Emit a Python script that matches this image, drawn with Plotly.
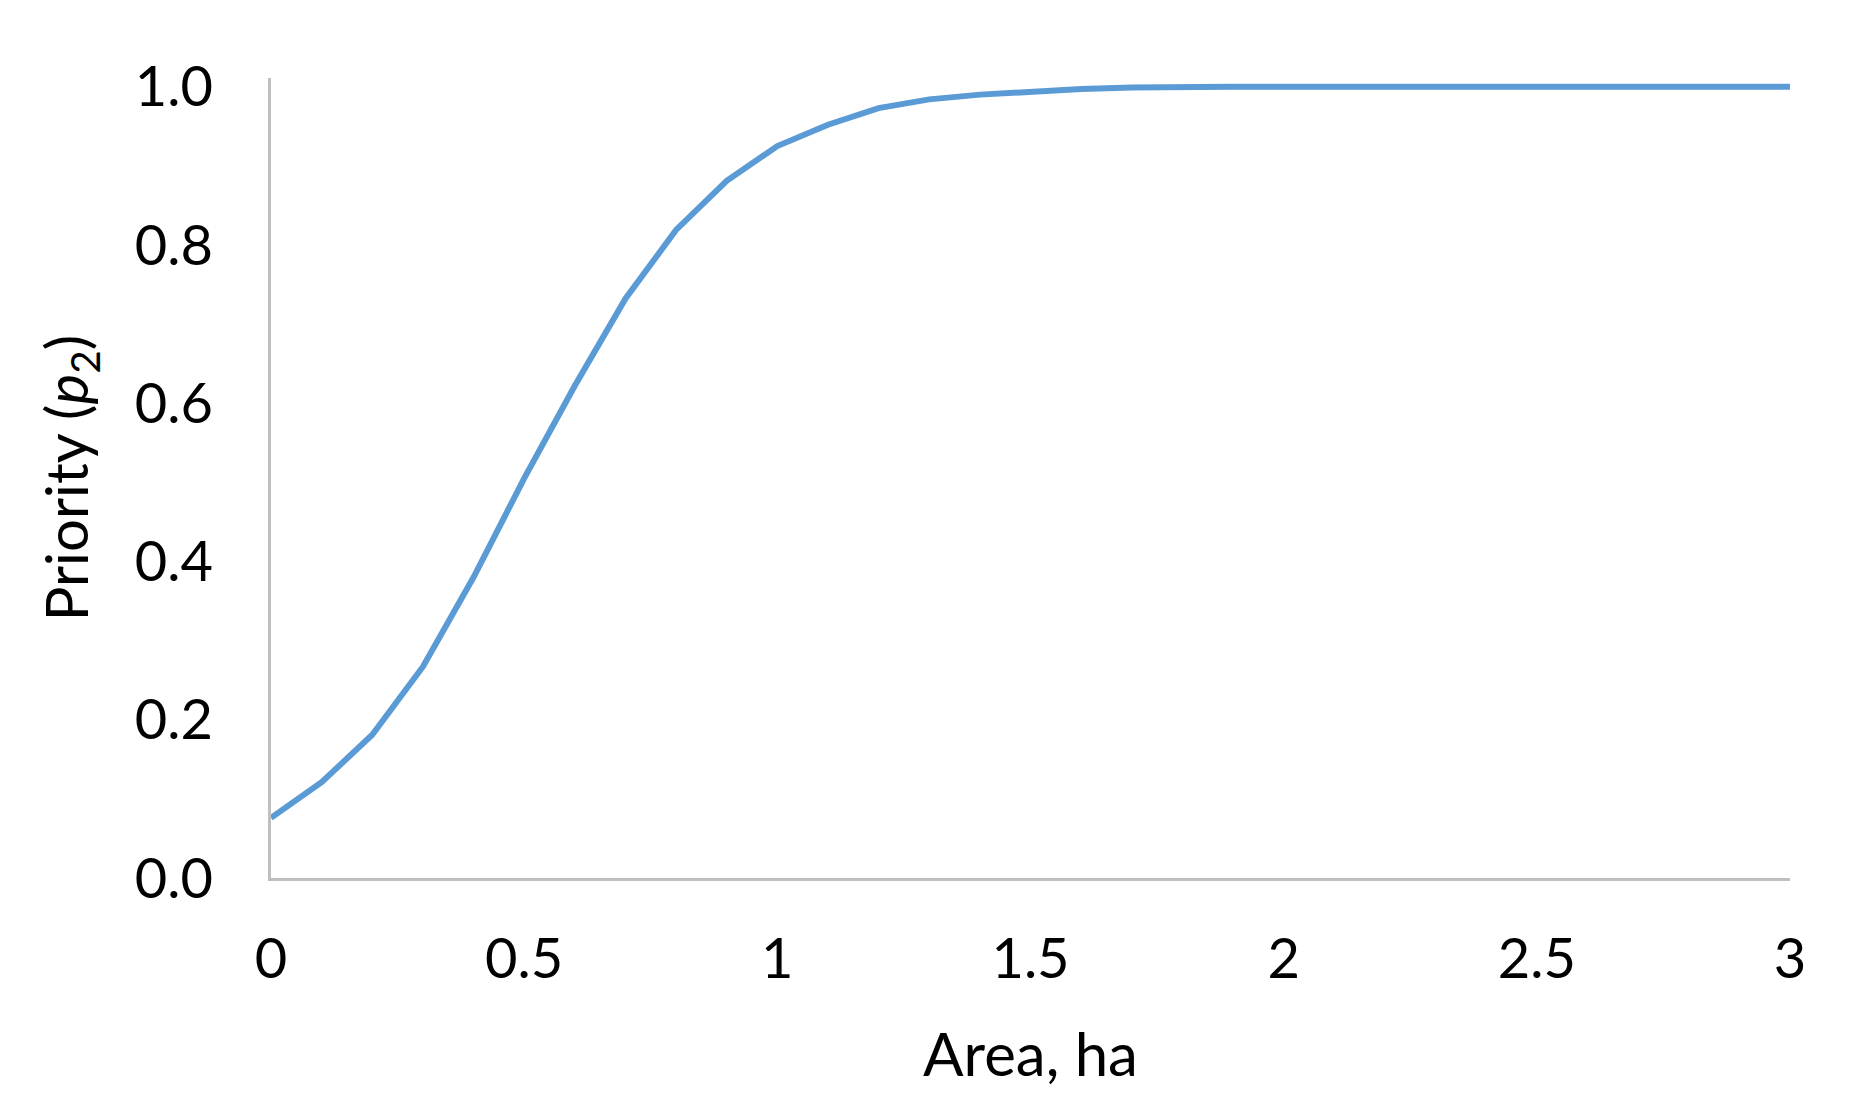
import plotly.graph_objects as go

area_ha = [0.0, 0.1, 0.2, 0.3, 0.4, 0.5, 0.6, 0.7, 0.8, 0.9,
           1.0, 1.1, 1.2, 1.3, 1.4, 1.5, 1.6, 1.7, 1.8, 1.9,
           2.0, 2.1, 2.2, 2.3, 2.4, 2.5, 2.6, 2.7, 2.8, 2.9, 3.0]
priority_p2 = [0.076, 0.121, 0.181, 0.267, 0.380, 0.505, 0.622, 0.732, 0.819, 0.881,
               0.925, 0.952, 0.973, 0.984, 0.990, 0.994, 0.997, 0.999, 1.0, 1.0,
               1.0, 1.0, 1.0, 1.0, 1.0, 1.0, 1.0, 1.0, 1.0, 1.0, 1.0]
x_ticks = [0, 0.5, 1, 1.5, 2, 2.5, 3]
x_tick_labels = ["0", "0.5", "1", "1.5", "2", "2.5", "3"]
y_ticks = [0.0, 0.2, 0.4, 0.6, 0.8, 1.0]
y_tick_labels = ["0.0", "0.2", "0.4", "0.6", "0.8", "1.0"]

FONT = "Lato"

fig = go.Figure()
fig.add_trace(go.Scatter(
    x=area_ha, y=priority_p2, mode="lines",
    line=dict(color="#5B9BD5", width=6),
    showlegend=False, hoverinfo="x+y",
))

fig.update_layout(
    width=1849, height=1113,
    paper_bgcolor="white", plot_bgcolor="white",
    margin=dict(l=263, r=67, t=70, b=243),
    font=dict(family=FONT, color="#000000", size=56),
)
fig.update_xaxes(
    range=[0, 3], tickvals=x_ticks, ticktext=x_tick_labels,
    showgrid=False, zeroline=False, automargin=False,
    showline=True, linecolor="#BFBFBF", linewidth=2.5,
    ticks="", ticklabelstandoff=30,
    tickfont=dict(family=FONT, size=56, color="#000000"),
    title=dict(text="Area, ha", font=dict(family=FONT, size=60, color="#000000"), standoff=46),
)
fig.update_yaxes(
    range=[0, 1.011], tickvals=y_ticks, ticktext=y_tick_labels,
    showgrid=False, zeroline=False, automargin=False,
    showline=True, linecolor="#BFBFBF", linewidth=2.5,
    ticks="", ticklabelstandoff=44,
    tickfont=dict(family=FONT, size=56, color="#000000"),
    title=dict(text="Priority (<i>p</i><sub>2</sub>)", font=dict(family=FONT, size=58, color="#000000"), standoff=28),
)

fig.write_html("out.html")
